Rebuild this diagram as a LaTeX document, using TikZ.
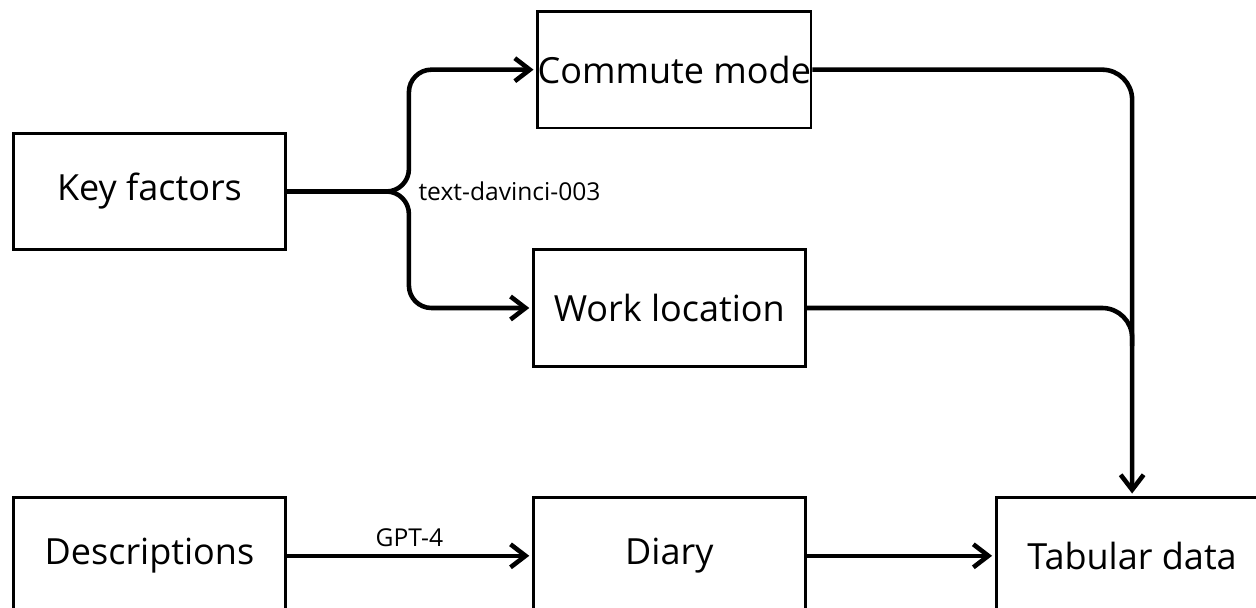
\documentclass[tikz,border=0pt]{standalone}
\usepackage{fontspec}
\setmainfont{Open Sans}
\usetikzlibrary{arrows.meta,positioning}
\tikzset{
  % process box: text centred, fixed size
  factbox/.style={draw, rectangle, minimum width=5.44cm, minimum height=2.33cm,
                  inner sep=0pt, line width=1.6pt, font=\fontsize{20.5}{24}\selectfont},
  % connectors
  flowline/.style={line width=2.6pt, rounded corners=0.6cm},
  flowarr/.style={flowline, -{Straight Barb[length=3mm,width=4.6mm]}, shorten >=1.5pt},
  % model labels on the connectors
  lbl/.style={font=\fontsize{14}{16}\selectfont, inner sep=1pt}
}

\begin{document}
\begin{tikzpicture}
\useasboundingbox (0,0) rectangle (25.12,12.16);

% ============== upper part: key factors ==============
\node[factbox] (keyf) at (2.99,8.33) {Key factors};
\node[factbox, right=4.9cm of keyf, yshift=-2.33cm] (work) {Work location};
\node[factbox, above=2.38cm of work, xshift=0.1cm] (commute) {Commute mode};

\coordinate[right=2.44cm of keyf.east] (split);
\draw[flowarr, rounded corners=0.45cm] (keyf.east) -- (split) |- (commute.west);
\draw[flowarr, rounded corners=0.45cm] (keyf.east) -- (split) |- (work.west);
\node[lbl, anchor=west] (davinci) at ([xshift=1.5mm]split) {text-davinci-003};

% ============== lower part: descriptions ==============
\node[factbox, below=4.9cm of keyf] (desc) {Descriptions};
\node[factbox, right=4.9cm of desc] (diary) {Diary};
\node[factbox, right=3.76cm of diary] (tab) {Tabular data};

\draw[flowarr] (desc.east) -- node[lbl, above=3pt] (gpt) {GPT-4} (diary.west);
\draw[flowarr] (diary.east) -- (tab.west);

% both factors run into the table
\coordinate (merge) at ([yshift=3cm]tab.north);
\draw[flowarr] (commute.east) -| (tab.north);
\draw[flowline] (work.east) -| (merge);

\end{tikzpicture}
\end{document}
